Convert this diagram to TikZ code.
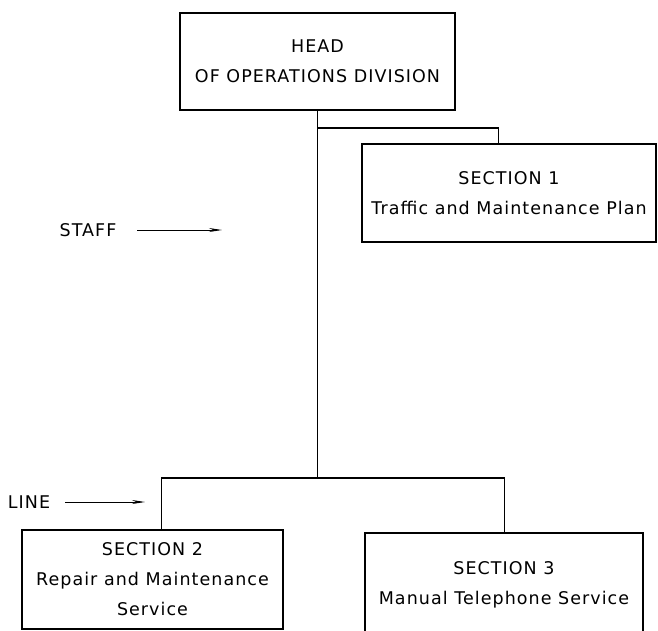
\documentclass[tikz,border=0pt]{standalone}
\usepackage{fontspec}
\setmainfont{DejaVu Sans}[LetterSpace=6]
\usetikzlibrary{arrows.meta}
\begin{document}
\begin{tikzpicture}[x=1pt,y=-1pt,
  orgbox/.style={draw, line width=1.1pt, align=center, inner sep=0pt,
    font=\fontsize{17.5}{30}\selectfont},
  conn/.style={line width=1.1pt},
  lbl/.style={font=\fontsize{17.5}{20}\selectfont, inner sep=0pt},
  pointer/.style={line width=0.9pt, -{Stealth[length=13pt,width=4pt]}}]
\useasboundingbox (0,0) rectangle (658,630);
\node[orgbox, minimum width=275pt, minimum height=97pt] (head) at (317.5,61.5) {HEAD\\OF OPERATIONS DIVISION};
\node[orgbox, minimum width=294pt, minimum height=98pt] (sec1) at (509,193) {SECTION 1\\Traffic and Maintenance Plan};
\node[orgbox, minimum width=261pt, minimum height=99pt] (sec2) at (152.5,579.5) {SECTION 2\\Repair and Maintenance\\Service};
\node[orgbox, minimum width=278pt, minimum height=104pt] (sec3) at (504,585) {SECTION 3\\Manual Telephone Service};
\coordinate (j1) at (317.5,128);
\coordinate (j2) at (317.5,478);
\draw[conn] (head.south) -- (j2);
\draw[conn] (j1) -| ([xshift=137pt]sec1.north west);
\draw[conn] (j2) -| ([xshift=140pt]sec2.north west);
\draw[conn] (j2) -| ([xshift=140pt]sec3.north west);
\node[lbl] (staff) at (88,230) {STAFF};
\node[lbl] (line) at (29,502) {LINE};
\coordinate (staffstart) at (137,230);
\coordinate (staffend) at (222,230);
\coordinate (linestart) at (65,502);
\coordinate (lineend) at (145,502);
\draw[pointer] (staffstart) -- (staffend);
\draw[pointer] (linestart) -- (lineend);
\end{tikzpicture}
\end{document}
